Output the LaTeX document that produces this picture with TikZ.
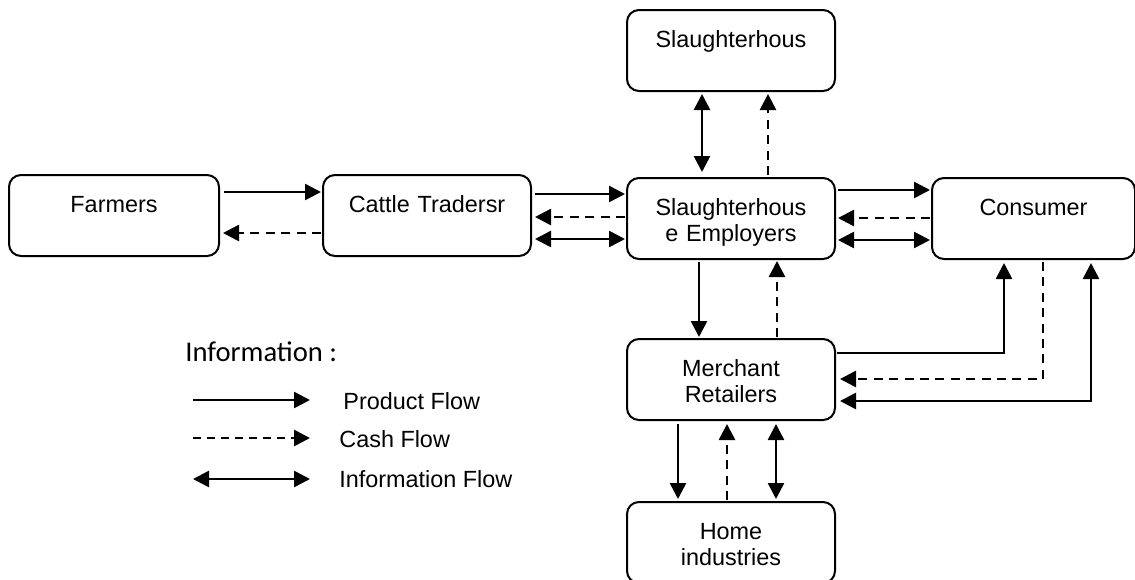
\documentclass[tikz,border=0pt]{standalone}
\usepackage{fontspec}
\setmainfont{Liberation Sans}
\newfontfamily\calibrifont{Carlito}
\usetikzlibrary{positioning,calc,arrows.meta}

\begin{document}
\begin{tikzpicture}[
    x=0.5pt, y=-0.5pt,
    box/.style={rectangle, draw=black, line width=1pt, rounded corners=6pt, inner xsep=0pt, inner ysep=0pt, text width=104pt, align=center, text height=18.6pt, text depth=21.9pt, font=\fontsize{11.7pt}{13pt}\selectfont},
    product/.style={-{Triangle[length=8pt,width=8pt]}, line width=1.3pt},
    cash/.style={-{Triangle[length=8pt,width=8pt]}, line width=1.3pt, dash pattern=on 4.5pt off 3.2pt},
    info/.style={{Triangle[length=8pt,width=8pt]}-{Triangle[length=8pt,width=8pt]}, line width=1.3pt},
    legendtext/.style={anchor=base west, inner sep=0pt, font=\fontsize{11.7pt}{13pt}\selectfont}
]
    \useasboundingbox (0,0) rectangle (1135,579);

    % boxes
    \node[box, anchor=north] (employers) at (731,177) {Slaughterhous\\e Employers};
    \node[box, above=42.5pt of employers] (slaughter) {Slaughterhous};
    \node[box, below=39pt of employers] (merchant) {Merchant\\Retailers};
    \node[box, below=40pt of merchant] (home) {Home\\industries};
    \node[box, text width=101.5pt, right=47.5pt of employers] (consumer) {Consumer};
    \node[box, text width=105pt, anchor=north] (farmers) at (114,174) {Farmers};
    \node[box, right=51pt of farmers] (traders) {Cattle Tradersr};

    % farmers -- traders
    \draw[product] ($(farmers.north east)+(4,18)$) -- ($(traders.north west)+(-1,18)$);
    \draw[cash] ($(traders.north west)+(-1,59)$) -- ($(farmers.north east)+(3,59)$);

    % traders -- employers
    \draw[product] ($(traders.north east)+(3,20)$) -- ($(employers.north west)+(-1,17)$);
    \draw[cash] ($(employers.north west)+(-1,40)$) -- ($(traders.north east)+(3,43)$);
    \draw[info] ($(traders.north east)+(3,65)$) -- ($(employers.north west)+(-1,62)$);

    % employers -- consumer
    \draw[product] ($(employers.north east)+(2,13)$) -- ($(consumer.north west)+(-1,13)$);
    \draw[cash] ($(consumer.north west)+(-1,41)$) -- ($(employers.north east)+(2,41)$);
    \draw[info] ($(employers.north east)+(2,63)$) -- ($(consumer.north west)+(-1,63)$);

    % employers -- slaughterhouse
    \draw[info] ($(slaughter.south west)+(76,2)$) -- ($(employers.north west)+(76,-5)$);
    \draw[cash] ($(employers.north west)+(142,-2)$) -- ($(slaughter.south west)+(142,2)$);

    % employers -- merchant
    \draw[product] ($(employers.south west)+(73,2)$) -- ($(merchant.north west)+(73,-1)$);
    \draw[cash] ($(merchant.north west)+(151,-1)$) -- ($(employers.south west)+(151,1)$);

    % merchant -- home
    \draw[product] ($(merchant.south west)+(52,3)$) -- ($(home.north west)+(52,-2)$);
    \draw[cash] ($(home.north west)+(101,-1)$) -- ($(merchant.south west)+(101,3)$);
    \draw[info] ($(merchant.south west)+(150,3)$) -- ($(home.north west)+(150,-2)$);

    % merchant -- consumer
    \draw[product] ($(merchant.north east)+(1,15)$) -| ($(consumer.south west)+(73,3)$);
    \draw[cash] ($(consumer.south west)+(112,2)$) |- ($(merchant.north east)+(4,41)$);
    \draw[info] ($(merchant.north east)+(4,63)$) -| ($(consumer.south west)+(160,3)$);

    % legend
    \node[anchor=base west, inner sep=0pt, font=\calibrifont\fontsize{14.3pt}{16pt}\selectfont] (legendtitle) at (185,361) {Information :};
    \coordinate (prodA) at (193,400);
    \coordinate (prodB) at (310,400);
    \coordinate (cashA) at (193,438);
    \coordinate (cashB) at (310,438);
    \coordinate (infoA) at (193,479);
    \coordinate (infoB) at (310,479);
    \draw[product] (prodA) -- (prodB);
    \draw[cash, dash pattern=on 4pt off 3pt] (cashA) -- (cashB);
    \draw[info] (infoA) -- (infoB);
    \node[legendtext] (prodtext) at (343,409) {Product Flow};
    \node[legendtext] (cashtext) at (339,447) {Cash Flow};
    \node[legendtext] (infotext) at (339,487) {Information Flow};
\end{tikzpicture}
\end{document}
